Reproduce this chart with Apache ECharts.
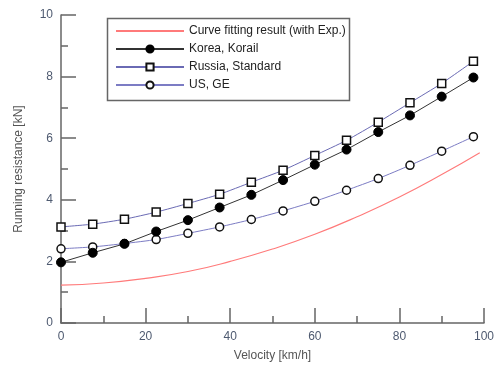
<!DOCTYPE html>
<html>
<head>
<meta charset="utf-8">
<script src="https://cdn.jsdelivr.net/npm/echarts@6/dist/echarts.min.js"></script>
<style>
html,body{margin:0;padding:0;background:#fff;}
#chart{width:498px;height:367px;}
</style>
</head>
<body>
<div id="chart"></div>
<script>
// Velocity points of the measured series [km/h]
var speeds = [0, 7.5, 15, 22.5, 30, 37.5, 45, 52.5, 60, 67.5, 75, 82.5, 90, 97.5];
// Running resistance [kN]
var korea  = [1.97, 2.28, 2.57, 2.97, 3.34, 3.75, 4.16, 4.64, 5.14, 5.63, 6.20, 6.74, 7.35, 7.97];
var russia = [3.12, 3.21, 3.37, 3.60, 3.88, 4.18, 4.57, 4.96, 5.44, 5.93, 6.52, 7.15, 7.78, 8.50];
var us     = [2.41, 2.47, 2.58, 2.71, 2.91, 3.12, 3.36, 3.64, 3.95, 4.31, 4.69, 5.12, 5.58, 6.05];
// Curve fitting result
var fitSpeeds = [0, 10, 20, 30, 40, 50, 60, 70, 80, 90, 99];
var fitValues = [1.23, 1.30, 1.45, 1.67, 2.00, 2.40, 2.88, 3.45, 4.09, 4.82, 5.53];
var seriesNames = ['Curve fitting result (with Exp.)', 'Korea, Korail', 'Russia, Standard', 'US, GE'];
var xAxisName = 'Velocity [km/h]';
var yAxisName = 'Running resistance [kN]';

function pairs(xs, ys) { return xs.map(function (x, i) { return [x, ys[i]]; }); }

var chart = echarts.init(document.getElementById('chart'), null, {renderer: 'canvas'});
var font = 'Liberation Sans, Arial, sans-serif';
var axisCommon = {
  axisLine: {show: true, lineStyle: {color: '#666', width: 1.5}},
  axisTick: {show: true, inside: true, length: 15, lineStyle: {color: '#666', width: 1.5}},
  minorTick: {show: true, splitNumber: 2, length: 7, lineStyle: {color: '#666', width: 1.5}},
  splitLine: {show: false},
  axisLabel: {color: '#4e5a70', fontSize: 12, fontFamily: font},
  nameLocation: 'middle',
  nameTextStyle: {color: '#555', fontSize: 12, fontFamily: font}
};

chart.setOption({
  animation: false,
  backgroundColor: '#fff',
  grid: {left: 61, right: 14, top: 15, bottom: 44, containLabel: false},
  xAxis: Object.assign({}, axisCommon, {
    type: 'value', min: 0, max: 100, interval: 20,
    name: xAxisName, nameGap: 27,
    axisLabel: Object.assign({}, axisCommon.axisLabel, {margin: 8})
  }),
  yAxis: Object.assign({}, axisCommon, {
    type: 'value', min: 0, max: 10, interval: 2,
    name: yAxisName, nameGap: 36,
    axisLabel: Object.assign({}, axisCommon.axisLabel, {margin: 8})
  }),
  legend: {
    orient: 'vertical', left: 115, top: 24, padding: 0,
    itemWidth: 68, itemHeight: 9, itemGap: 4,
    textStyle: {color: '#222', fontSize: 12, fontFamily: font, lineHeight: 14},
    data: [
      {name: seriesNames[0], itemStyle: {opacity: 0}},
      {name: seriesNames[1]},
      {name: seriesNames[2]},
      {name: seriesNames[3]}
    ]
  },
  graphic: [{
    type: 'rect', shape: {x: 107.5, y: 18.5, width: 242, height: 82},
    style: {fill: 'none', stroke: '#666', lineWidth: 1.5}, z: 0, silent: true
  }],
  series: [
    {
      name: seriesNames[0], type: 'line', data: pairs(fitSpeeds, fitValues),
      smooth: true, symbol: 'none', showSymbol: false,
      lineStyle: {color: '#ff7a7a', width: 1.1}, itemStyle: {color: '#ff7a7a'}, z: 2
    },
    {
      name: seriesNames[1], type: 'line', data: pairs(speeds, korea),
      symbol: 'circle', symbolSize: 9,
      lineStyle: {color: '#333', width: 1},
      itemStyle: {color: '#000', borderColor: '#000', borderWidth: 1}, z: 4
    },
    {
      name: seriesNames[2], type: 'line', data: pairs(speeds, russia),
      symbol: 'rect', symbolSize: 8, smooth: 0.2,
      lineStyle: {color: '#6a6ab4', width: 1},
      itemStyle: {color: '#fff', borderColor: '#111', borderWidth: 1.5}, z: 3
    },
    {
      name: seriesNames[3], type: 'line', data: pairs(speeds, us),
      symbol: 'circle', symbolSize: 8, smooth: 0.2,
      lineStyle: {color: '#7c7cc4', width: 1},
      itemStyle: {color: '#fff', borderColor: '#111', borderWidth: 1.5}, z: 3
    }
  ]
});
</script>
</body>
</html>
